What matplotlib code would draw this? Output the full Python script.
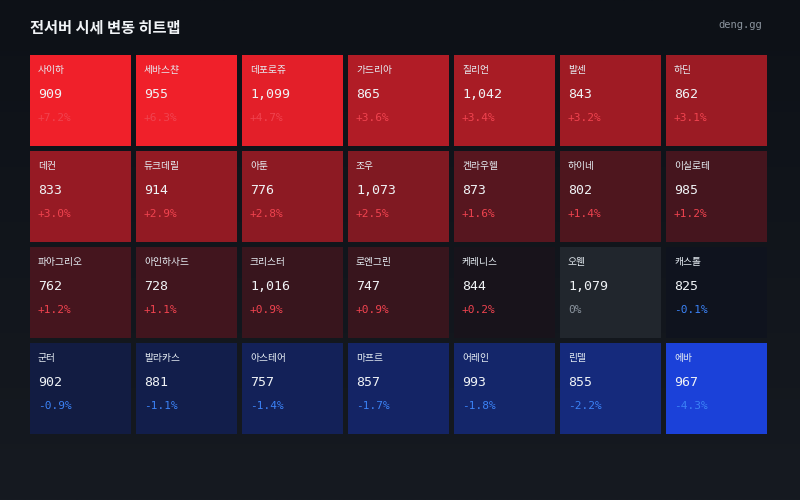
import numpy as np
import matplotlib
matplotlib.use('Agg')
import matplotlib.pyplot as plt
from matplotlib.patches import Rectangle

plt.rcParams['font.family'] = ['Noto Sans CJK KR', 'DejaVu Sans']

# data, row by row (7 columns)
names = ['사이하', '세바스챤', '데포로쥬', '가드리아', '질리언', '발센', '하딘',
         '데컨', '듀크데릴', '아툰', '조우', '켄라우헬', '하이네', '이실로테',
         '파아그리오', '아인하사드', '크리스터', '로엔그린', '케레니스', '오웬', '캐스톨',
         '군터', '발라카스', '아스테어', '마프르', '어레인', '린델', '에바']
prices = [909, 955, 1099, 865, 1042, 843, 862,
          833, 914, 776, 1073, 873, 802, 985,
          762, 728, 1016, 747, 844, 1079, 825,
          902, 881, 757, 857, 993, 855, 967]
changes = [7.2, 6.3, 4.7, 3.6, 3.4, 3.2, 3.1,
           3.0, 2.9, 2.8, 2.5, 1.6, 1.4, 1.2,
           1.2, 1.1, 0.9, 0.9, 0.2, 0.0, -0.1,
           -0.9, -1.1, -1.4, -1.7, -1.8, -2.2, -4.3]

n_cols = 7
W, H = 800, 500
x0, y0 = 30, 55
cw, ch = 101, 91
px, py = 106, 96

base = np.array([15, 18, 26]) / 255
red = np.array([240, 32, 42]) / 255
blue = np.array([28, 68, 230]) / 255


def cell_color(p):
    if p == 0:
        return '#21262d'
    if p > 0:
        t = min(p / 5.0, 1.0)
        tgt = red
    else:
        t = min(-p / 4.6, 1.0)
        tgt = blue
    return tuple(base + t * (tgt - base))


def pct_label(p):
    if p == 0:
        return '0%', '#8b949e'
    if p > 0:
        return f'+{p:.1f}%', '#f0434f'
    return f'{p:.1f}%', '#3b82f6'


fig = plt.figure(figsize=(8, 5), dpi=100)
ax = fig.add_axes([0, 0, 1, 1])
ax.set_xlim(0, W)
ax.set_ylim(H, 0)
ax.axis('off')

# background gradient
grad = np.linspace(0, 1, 256).reshape(-1, 1)
top = np.array([13, 17, 23]) / 255
bot = np.array([22, 26, 33]) / 255
bg = top + grad[..., None] * (bot - top)
bg = np.repeat(bg, 2, axis=1)
ax.imshow(bg, extent=[0, W, H, 0], aspect='auto', zorder=0)

ax.text(30, 28, '전서버 시세 변동 히트맵', color='#f0f3f6', fontsize=11,
        fontweight='bold', va='center', ha='left')
ax.text(762, 25, 'deng.gg', color='#8b949e', fontsize=7.5,
        family='DejaVu Sans Mono', va='center', ha='right')

for i, (nm, pr, chg) in enumerate(zip(names, prices, changes)):
    r, c = divmod(i, n_cols)
    x = x0 + c * px
    y = y0 + r * py
    ax.add_patch(Rectangle((x, y), cw, ch, facecolor=cell_color(chg),
                           edgecolor='none', zorder=1))
    ax.text(x + 8, y + 15, nm, color='#e6edf3', fontsize=7, fontweight='medium',
            va='center', ha='left', zorder=2)
    ax.text(x + 8, y + 40, f'{pr:,}', color='#f0f3f6', fontsize=9.5,
            family='DejaVu Sans Mono', va='center', ha='left', zorder=2)
    lab, col = pct_label(chg)
    ax.text(x + 8, y + 63, lab, color=col, fontsize=8,
            family='DejaVu Sans Mono', va='center', ha='left', zorder=2)

plt.savefig('out.png', dpi=100)
